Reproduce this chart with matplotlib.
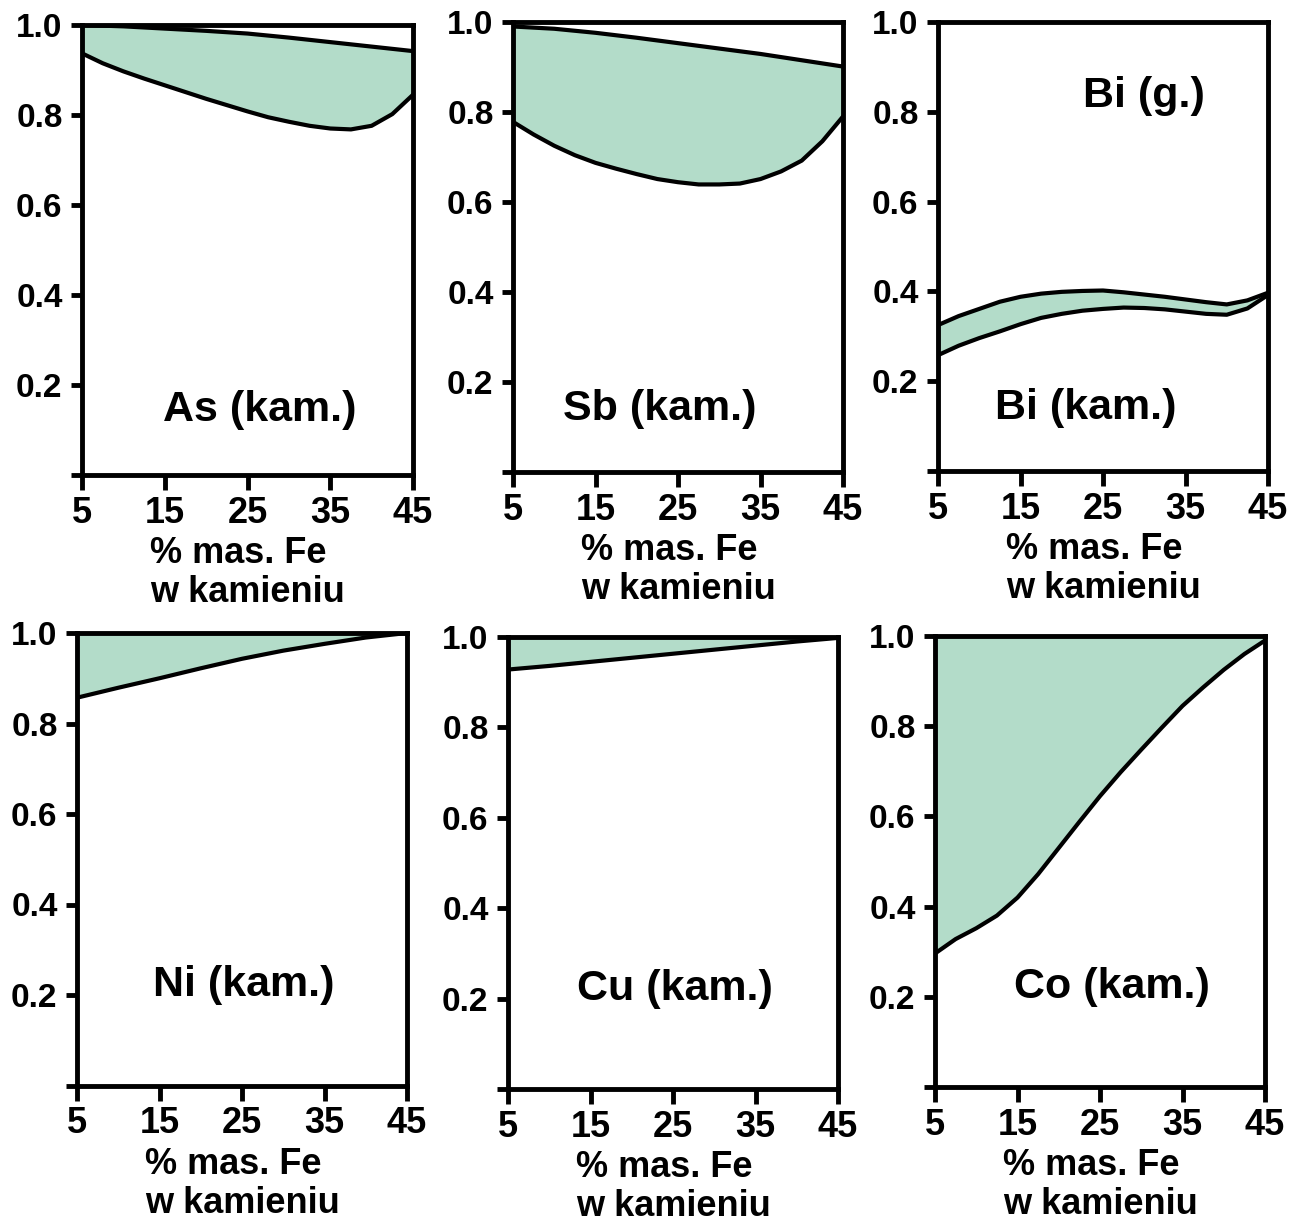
import matplotlib
matplotlib.use("Agg")
import matplotlib.pyplot as plt
import numpy as np

plt.rcParams["font.family"] = ["Liberation Sans", "DejaVu Sans"]
plt.rcParams["font.weight"] = "bold"

# Fe content in the slag (% mass)
fe_fine = [5, 7.5, 10, 12.5, 15, 17.5, 20, 22.5, 25, 27.5, 30, 32.5, 35, 37.5, 40, 42.5, 45]
fe_coarse = [5, 10, 15, 20, 25, 30, 35, 40, 45]

# As (kam.)
as_upper = [1.0, 0.997, 0.992, 0.987, 0.981, 0.972, 0.962, 0.952, 0.942]
as_lower = [0.937, 0.915, 0.897, 0.881, 0.866, 0.851, 0.836, 0.822, 0.808,
            0.795, 0.785, 0.776, 0.770, 0.768, 0.776, 0.802, 0.845]

# Sb (kam.)
sb_upper = [0.99, 0.985, 0.976, 0.965, 0.953, 0.941, 0.929, 0.915, 0.901]
sb_lower = [0.778, 0.750, 0.725, 0.704, 0.687, 0.674, 0.662, 0.651, 0.644,
            0.639, 0.639, 0.641, 0.651, 0.668, 0.692, 0.735, 0.790]

# Bi (g.) / Bi (kam.)
bi_upper = [0.325, 0.345, 0.361, 0.377, 0.388, 0.395, 0.399, 0.401, 0.402,
            0.398, 0.393, 0.388, 0.382, 0.376, 0.371, 0.380, 0.397]
bi_lower = [0.258, 0.279, 0.296, 0.311, 0.327, 0.341, 0.350, 0.357, 0.361,
            0.364, 0.363, 0.360, 0.355, 0.350, 0.348, 0.362, 0.392]

# Ni (kam.)
ni_upper = [1.0, 1.0, 1.0, 1.0, 1.0, 1.0, 1.0, 1.0, 1.0]
ni_lower = [0.857, 0.879, 0.900, 0.922, 0.943, 0.961, 0.976, 0.990, 1.0]

# Cu (kam.)
cu_upper = [1.0, 1.0, 1.0, 1.0, 1.0, 1.0, 1.0, 1.0, 1.0]
cu_lower = [0.928, 0.936, 0.945, 0.954, 0.963, 0.972, 0.981, 0.990, 0.998]

# Co (kam.)
co_upper = [1.0, 1.0, 1.0, 1.0, 1.0, 1.0, 1.0, 1.0, 1.0, 1.0, 1.0, 1.0, 1.0, 1.0, 1.0, 1.0, 1.0]
co_lower = [0.296, 0.328, 0.352, 0.380, 0.420, 0.472, 0.530, 0.588, 0.645,
            0.698, 0.748, 0.797, 0.845, 0.886, 0.925, 0.960, 0.990]

x_ticks = [5, 15, 25, 35, 45]
x_tick_labels = ["5", "15", "25", "35", "45"]
y_ticks = [0.0, 0.2, 0.4, 0.6, 0.8, 1.0]
y_tick_labels = ["", "0.2", "0.4", "0.6", "0.8", "1.0"]
x_label = "% mas. Fe\nw kamieniu"

FILL = "#b3dcc9"
SPINE_W = 3.5
CURVE_W = 3.0

panels = [
    # rect, x of upper, x of lower, upper, lower, draw upper, labels [(text, x, y)]
    ([82 / 1289, 1 - 475 / 1222, 331 / 1289, 450 / 1222],
     fe_coarse, fe_fine, as_upper, as_lower, True, [("As (kam.)", 26.5, 0.12)]),
    ([513 / 1289, 1 - 472 / 1222, 330 / 1289, 450 / 1222],
     fe_coarse, fe_fine, sb_upper, sb_lower, True, [("Sb (kam.)", 22.8, 0.115)]),
    ([938 / 1289, 1 - 471 / 1222, 330 / 1289, 449 / 1222],
     fe_fine, fe_fine, bi_upper, bi_lower, True,
     [("Bi (g.)", 30.0, 0.81), ("Bi (kam.)", 22.9, 0.115)]),
    ([77 / 1289, 1 - 1085.5 / 1222, 330 / 1289, 452.5 / 1222],
     fe_coarse, fe_coarse, ni_upper, ni_lower, False, [("Ni (kam.)", 25.2, 0.198)]),
    ([508 / 1289, 1 - 1089 / 1222, 330 / 1289, 452 / 1222],
     fe_coarse, fe_coarse, cu_upper, cu_lower, False, [("Cu (kam.)", 25.2, 0.198)]),
    ([935 / 1289, 1 - 1087 / 1222, 330 / 1289, 451 / 1222],
     fe_fine, fe_fine, co_upper, co_lower, False, [("Co (kam.)", 26.4, 0.198)]),
]

fig = plt.figure(figsize=(12.89, 12.22), dpi=100)

for rect, xu, xl, upper, lower, draw_upper, labels in panels:
    ax = fig.add_axes(rect)
    # shade the band between the two curves on the lower-curve grid
    up_on_lower = np.interp(xl, xu, upper)
    ax.fill_between(xl, lower, up_on_lower, color=FILL, lw=0)
    if draw_upper:
        ax.plot(xu, upper, color="black", lw=CURVE_W, solid_joinstyle="round")
    ax.plot(xl, lower, color="black", lw=CURVE_W, solid_joinstyle="round")

    ax.set_xlim(5, 45)
    ax.set_ylim(0, 1.0)
    for sp in ax.spines.values():
        sp.set_linewidth(SPINE_W)
        sp.set_color("black")
        sp.set_zorder(5)

    ax.set_xticks(x_ticks)
    ax.set_xticklabels(x_tick_labels, fontsize=26, fontweight="bold")
    ax.set_yticks(y_ticks)
    ax.set_yticklabels(y_tick_labels, fontsize=24, fontweight="bold")
    ax.tick_params(axis="x", direction="out", length=11, width=SPINE_W, pad=4)
    ax.tick_params(axis="y", direction="out", length=8, width=SPINE_W, pad=6)

    ax.set_xlabel(x_label, fontsize=26, fontweight="bold",
                  multialignment="left", linespacing=1.15, labelpad=4)

    for text, tx, ty in labels:
        ax.text(tx, ty, text, fontsize=31, fontweight="bold",
                ha="center", va="baseline")

fig.savefig("out.png", dpi=100)
